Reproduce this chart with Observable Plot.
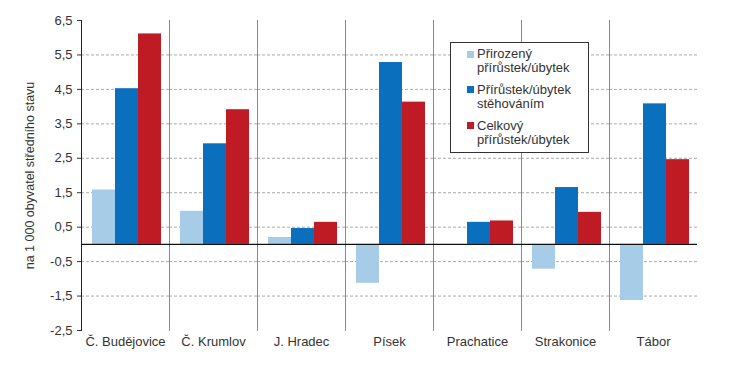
<!DOCTYPE html>
<html>
<head>
<meta charset="utf-8">
<script src="https://cdn.jsdelivr.net/npm/d3@7"></script>
<script src="https://cdn.jsdelivr.net/npm/@observablehq/plot@0.6"></script>
<style>
  html, body { margin: 0; padding: 0; background: #fff; }
  #wrap { position: relative; width: 730px; height: 376px; font-family: "Liberation Sans", Arial, sans-serif; }
  #legend { position: absolute; left: 450px; top: 42px; width: 137px; height: 105px;
    border: 1.5px solid #333; background: #fff; padding: 4px 0 0 0; box-sizing: content-box; }
  .item { position: relative; padding-left: 26px; font-size: 13px; line-height: 14.3px; color: #333; margin-bottom: 7.4px; }
  .sw { position: absolute; left: 16px; top: 3.5px; width: 7px; height: 7px; }
</style>
</head>
<body>
<div id="wrap"></div>
<script>
const districts = ["Č. Budějovice", "Č. Krumlov", "J. Hradec", "Písek", "Prachatice", "Strakonice", "Tábor"];
const seriesNames = ["Přirozený přírůstek/úbytek", "Přírůstek/úbytek stěhováním", "Celkový přírůstek/úbytek"];
const legendLines = [["Přirozený", "přírůstek/úbytek"], ["Přírůstek/úbytek", "stěhováním"], ["Celkový", "přírůstek/úbytek"]];
const natural   = [1.58, 0.96, 0.20, -1.13, 0.00, -0.72, -1.63];
const migration = [4.52, 2.92, 0.46, 5.28, 0.64, 1.65, 4.08];
const total     = [6.11, 3.91, 0.64, 4.13, 0.68, 0.93, 2.46];
const colors = ["#a7cce7", "#0a6fbd", "#be1b24"];
const yTicks = [6.5, 5.5, 4.5, 3.5, 2.5, 1.5, 0.5, -0.5, -1.5, -2.5];
const gridTicks = [5.5, 4.5, 3.5, 2.5, 1.5, 0.5, -0.5, -1.5];
const yLabel = "na 1 000 obyvatel středního stavu";

const seriesValues = [natural, migration, total];
const rows = [];
districts.forEach((d, i) => seriesNames.forEach((s, j) => rows.push({district: d, series: s, value: seriesValues[j][i]})));

const fmt = v => v.toFixed(1).replace(".", ",");

const chart = Plot.plot({
  width: 730,
  height: 376,
  marginLeft: 81,
  marginRight: 33,
  marginTop: 20,
  marginBottom: 46,
  style: {fontFamily: "'Liberation Sans', Arial, sans-serif", fontSize: "13px", color: "#333", background: "#fff"},
  fx: {domain: districts, padding: 0, axis: "bottom", tickSize: 0, tickPadding: 6, label: null},
  x: {domain: seriesNames, paddingInner: 0, paddingOuter: 0.38, align: 0.56, axis: null},
  y: {domain: [-2.5, 6.5], axis: null},
  color: {domain: seriesNames, range: colors},
  marks: [
    Plot.ruleY(gridTicks, {stroke: "#aaa", strokeDasharray: "3,2", strokeWidth: 1}),
    Plot.frame({anchor: "left", stroke: "#8a8a8a", strokeWidth: 1}),
    Plot.barY(rows, {fx: "district", x: "series", y: "value", fill: "series"}),
    Plot.ruleY([0], {stroke: "#111", strokeWidth: 1.3}),
    Plot.axisY({ticks: yTicks, tickFormat: fmt, tickSize: 4, tickPadding: 5, fontSize: 13,
      label: yLabel, labelAnchor: "center", labelOffset: 56, labelArrow: "none"}),
    Plot.frame({anchor: "left", stroke: "#222", strokeWidth: 1, facet: "super"})
  ]
});

const wrap = document.getElementById("wrap");
wrap.appendChild(chart);
chart.querySelectorAll("text").forEach(t => {
  if (t.textContent === yLabel) t.setAttribute("font-size", "12.5");
});
const legend = document.createElement("div");
legend.id = "legend";
legendLines.forEach((lines, j) => {
  const it = document.createElement("div");
  it.className = "item";
  const sw = document.createElement("span");
  sw.className = "sw";
  sw.style.background = colors[j];
  it.appendChild(sw);
  it.appendChild(document.createTextNode(lines[0]));
  it.appendChild(document.createElement("br"));
  it.appendChild(document.createTextNode(lines[1]));
  legend.appendChild(it);
});
wrap.appendChild(legend);
</script>
</body>
</html>
